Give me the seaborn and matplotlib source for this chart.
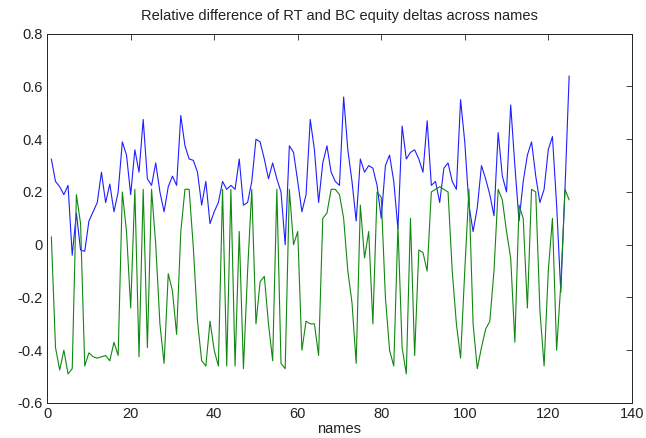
import numpy as np
import pandas as pd
import matplotlib
matplotlib.use("Agg")
import matplotlib.pyplot as plt
import seaborn as sns

# relative difference, one value per name (1..125)
rt_diff = [
    0.325, 0.24, 0.22, 0.19, 0.225, -0.04, 0.12, -0.02, -0.025, 0.09,
    0.125, 0.16, 0.275, 0.16, 0.23, 0.125, 0.2, 0.39, 0.34, 0.19,
    0.36, 0.275, 0.475, 0.25, 0.225, 0.31, 0.2, 0.125, 0.22, 0.26,
    0.225, 0.49, 0.375, 0.325, 0.32, 0.275, 0.15, 0.24, 0.08, 0.125,
    0.16, 0.24, 0.21, 0.225, 0.21, 0.325, 0.15, 0.16, 0.24, 0.4,
    0.39, 0.325, 0.25, 0.31, 0.25, 0.2, 0.0, 0.375, 0.35, 0.24,
    0.125, 0.19, 0.475, 0.36, 0.16, 0.31, 0.375, 0.275, 0.24, 0.225,
    0.56, 0.36, 0.24, 0.09, 0.325, 0.275, 0.3, 0.29, 0.225, 0.1,
    0.3, 0.34, 0.24, 0.06, 0.45, 0.325, 0.35, 0.36, 0.325, 0.275,
    0.47, 0.225, 0.24, 0.16, 0.29, 0.31, 0.24, 0.21, 0.55, 0.39,
    0.15, 0.05, 0.14, 0.3, 0.25, 0.19, 0.11, 0.425, 0.26, 0.2,
    0.53, 0.3, 0.09, 0.24, 0.34, 0.39, 0.26, 0.16, 0.21, 0.36,
    0.41, 0.15, -0.18, 0.21, 0.64,
]
bc_diff = [
    0.03, -0.39, -0.475, -0.4, -0.49, -0.47, 0.19, 0.08, -0.46, -0.41,
    -0.425, -0.43, -0.425, -0.42, -0.44, -0.37, -0.42, 0.2, 0.05, -0.24,
    0.21, -0.425, 0.21, -0.39, 0.21, 0.0, -0.3, -0.45, -0.11, -0.175,
    -0.34, 0.05, 0.21, 0.21, -0.01, -0.29, -0.44, -0.46, -0.29, -0.4,
    -0.46, 0.21, -0.46, 0.21, -0.46, 0.05, -0.47, -0.1, 0.21, -0.3,
    -0.14, -0.12, -0.3, -0.44, 0.21, -0.45, -0.47, 0.21, 0.0, 0.05,
    -0.4, -0.29, -0.3, -0.3, -0.42, 0.1, 0.12, 0.21, 0.21, 0.19,
    0.1, -0.1, -0.22, -0.45, 0.15, -0.05, 0.05, -0.3, 0.2, 0.18,
    -0.2, -0.4, -0.46, 0.07, -0.39, -0.49, 0.1, -0.42, -0.02, -0.03,
    -0.1, 0.2, 0.21, 0.22, 0.21, 0.2, -0.1, -0.3, -0.43, -0.1,
    0.21, -0.3, -0.47, -0.39, -0.32, -0.29, -0.1, 0.21, 0.17, 0.05,
    -0.05, -0.37, 0.15, 0.1, -0.24, 0.21, 0.2, -0.25, -0.46, -0.1,
    0.1, -0.4, -0.15, 0.21, 0.17,
]
names = np.arange(1, len(rt_diff) + 1)

df = pd.DataFrame({"names": names, "rt": rt_diff, "bc": bc_diff})

sns.set_style("white")
plt.rcParams["font.family"] = ["Liberation Sans", "DejaVu Sans"]
plt.rcParams["xtick.direction"] = "in"
plt.rcParams["ytick.direction"] = "in"

fig = plt.figure(figsize=(6.46, 4.38), dpi=100)
ax = fig.add_axes([0.073, 0.08, 0.905, 0.843])
sns.lineplot(x="names", y="rt", data=df, color="#1f1fff", linewidth=0.8, ax=ax)
sns.lineplot(x="names", y="bc", data=df, color="#118811", linewidth=0.8, ax=ax)

ax.set_xlim(0, 140)
ax.set_ylim(-0.6, 0.8)
ax.set_xticks(range(0, 141, 20))
ax.set_yticks(np.arange(-0.6, 0.81, 0.2))
ax.set_yticklabels(["-0.6", "-0.4", "-0.2", "0", "0.2", "0.4", "0.6", "0.8"])
ax.tick_params(top=True, right=True, labelsize=10.5, labelcolor="#222222",
               length=4, width=0.6, pad=3)
for s in ax.spines.values():
    s.set_linewidth(0.7)
    s.set_color("#222222")
ax.set_title("Relative difference of RT and BC equity deltas across names",
             fontsize=10.5, color="#222222", pad=10)
ax.set_xlabel("names", fontsize=10.5, color="#222222", labelpad=0.5)
ax.set_ylabel("")

fig.savefig("out.png", dpi=100)
